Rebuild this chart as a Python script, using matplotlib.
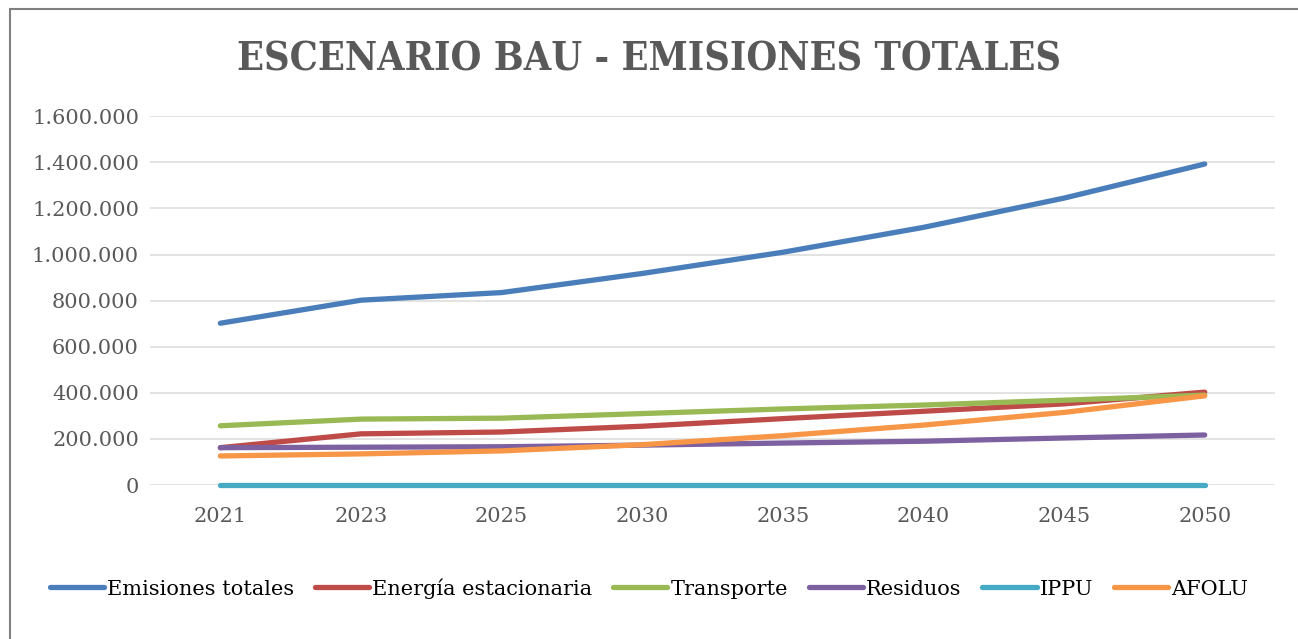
import matplotlib.pyplot as plt
from matplotlib.patches import Rectangle
from matplotlib.ticker import FuncFormatter

plt.rcParams['font.family'] = ['DejaVu Serif']

# datos
anios = ['2021', '2023', '2025', '2030', '2035', '2040', '2045', '2050']
emisiones_totales = [702000, 802000, 835000, 918000, 1010000, 1118000, 1245000, 1393000]
energia_estacionaria = [162000, 222000, 230000, 255000, 288000, 320000, 352000, 403000]
transporte = [257000, 286000, 290000, 310000, 330000, 347000, 368000, 390000]
residuos = [162000, 164000, 166000, 173000, 182000, 190000, 204000, 217000]
ippu = [2000, 2000, 2000, 2000, 2000, 2000, 2000, 2000]
afolu = [126000, 135000, 148000, 175000, 214000, 260000, 315000, 387000]

series = [
    ('Emisiones totales', emisiones_totales, '#4A7EBB'),
    ('Energía estacionaria', energia_estacionaria, '#BE4B48'),
    ('Transporte', transporte, '#98B954'),
    ('Residuos', residuos, '#7D60A0'),
    ('IPPU', ippu, '#46AAC5'),
    ('AFOLU', afolu, '#F79646'),
]

fig = plt.figure(figsize=(12.98, 6.39), dpi=100)
ax = fig.add_axes([0.1156, 0.241, 0.8667, 0.577])

x = range(len(anios))
for nombre, valores, color in series:
    ax.plot(x, valores, label=nombre, color=color, linewidth=3.8,
            solid_capstyle='round', clip_on=False)

ax.set_xlim(-0.5, 7.5)
ax.set_ylim(0, 1600000)
ax.set_yticks(range(0, 1600001, 200000))
ax.yaxis.set_major_formatter(FuncFormatter(lambda v, p: f'{int(v):,}'.replace(',', '.')))
ax.set_xticks(list(x))
ax.set_xticklabels(anios)
ax.tick_params(axis='both', length=0, labelsize=15, colors='#595959')
ax.tick_params(axis='x', pad=16)
ax.tick_params(axis='y', pad=8)
ax.grid(axis='y', color='#E0E0E0', linewidth=1.3)
ax.set_axisbelow(True)
for s in ax.spines.values():
    s.set_visible(False)

fig.text(0.5, 0.907, 'ESCENARIO BAU - EMISIONES TOTALES', ha='center', va='center',
         fontsize=28.4, fontweight='bold', color='#595959', fontstretch='condensed')

fig.legend(loc='center', bbox_to_anchor=(0.5, 0.079), ncol=6, frameon=False,
           fontsize=15, handlelength=2.6, columnspacing=1.0, handletextpad=0.15)

fig.patches.append(Rectangle((10 / 1298, -0.01), 1.02, 1 - 9 / 639 + 0.01, transform=fig.transFigure,
                             fill=False, edgecolor='#7F7F7F', linewidth=1.5))

fig.savefig('out.png', dpi=100)
